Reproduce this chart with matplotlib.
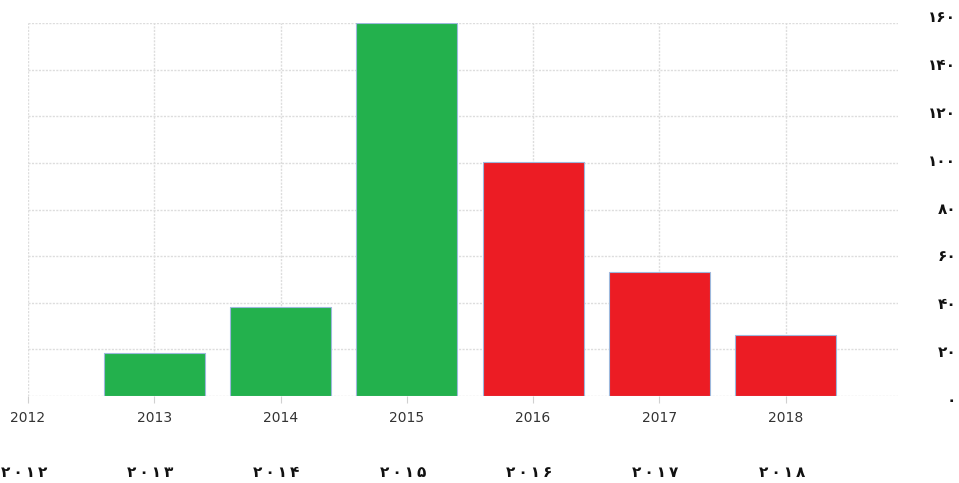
import matplotlib

matplotlib.use("Agg")
import matplotlib.pyplot as plt
from matplotlib.transforms import ScaledTranslation

years = [2013, 2014, 2015, 2016, 2017, 2018]
values = [18.5, 38.3, 160, 100.3, 53, 26.2]
x_ticks = [2012, 2013, 2014, 2015, 2016, 2017, 2018]
y_ticks = [0, 20, 40, 60, 80, 100, 120, 140, 160]

GREEN = "#23b14d"
RED = "#ec1c24"
bar_colors = [GREEN, GREEN, GREEN, RED, RED, RED]

FA = str.maketrans("0123456789", "۰۱۲۳۴۵۶۷۸۹")
DPI = 100


def fa_spaced(n):
    return "\u2009".join(str(n).translate(FA))


fig = plt.figure(figsize=(9.59, 4.83), dpi=DPI)
ax = fig.add_axes([0.0292, 0.1801, 0.9072, 0.7723])

ax.bar(years, values, width=0.8, color=bar_colors, edgecolor="#9db8dc",
       linewidth=0.8, zorder=2)

ax.set_xlim(2012, 2018.89)
ax.set_ylim(0, 160)
for s in ax.spines.values():
    s.set_visible(False)

ax.set_xticks(x_ticks)
ax.set_xticklabels([str(y) for y in x_ticks], fontsize=10, color="#333333")
ax.tick_params(axis="x", length=5, color="#d0d0d0", pad=6)

ax.yaxis.tick_right()
ax.set_yticks(y_ticks)
ax.set_yticklabels([str(v).translate(FA) for v in y_ticks], fontsize=11,
                   fontweight="bold", color="#111111")
ax.tick_params(axis="y", length=0, pad=42)
# labels drift upward a little towards the top, as in the source image
for v, lab in zip(y_ticks, ax.get_yticklabels()):
    lab.set_horizontalalignment("right")
    dy = (-3 + 10 * v / 160) / DPI
    lab.set_transform(lab.get_transform() + ScaledTranslation(0, dy, fig.dpi_scale_trans))

ax.grid(True, color="#dddddd", linestyle=(0, (1.5, 1)), linewidth=1.0, zorder=0)
ax.set_axisbelow(True)

# second row of year labels in Persian digits
shift = ScaledTranslation(-4 / DPI, 0, fig.dpi_scale_trans)
for yr in x_ticks:
    ax.text(yr, -0.205, fa_spaced(yr), transform=ax.get_xaxis_transform() + shift,
            ha="center", va="center", fontsize=11, fontweight="bold", color="#111111")

fig.savefig("out.png", dpi=DPI)
